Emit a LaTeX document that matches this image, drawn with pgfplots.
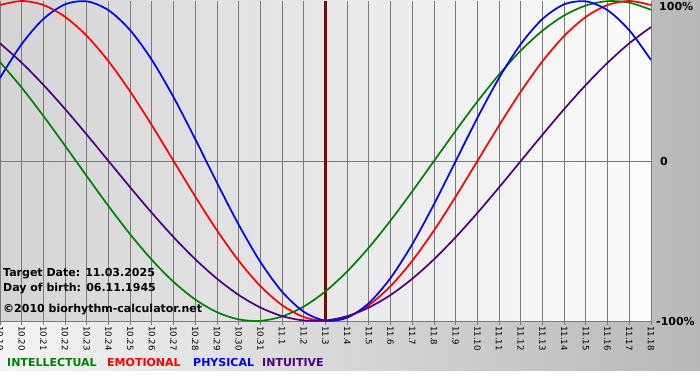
\documentclass[border=0pt]{standalone}
\usepackage{pgfplots}
\usepackage{pgfplotstable}
\pgfplotsset{compat=1.18}
\usepackage{fontspec}
\setmainfont{DejaVu Sans}
\definecolor{cGreen}{HTML}{008000}
\definecolor{cRed}{HTML}{FF0000}
\definecolor{cBlue}{HTML}{0000FF}
\definecolor{cPurple}{HTML}{4B0082}
\definecolor{gridc}{HTML}{7A7A7A}
\definecolor{target}{HTML}{7A0A0A}
\definecolor{bgL}{HTML}{D4D4D4}
\definecolor{bgR}{HTML}{FCFCFC}
\definecolor{outL}{HTML}{F4F4F4}
\definecolor{outR}{HTML}{B8B8B8}

\pgfplotstableread{
d phys emo intel intu
0 0.5196 0.9749 0.6182 0.7357
1 0.7308 1 0.4582 0.6142
2 0.8879 0.9749 0.2817 0.4759
3 0.9791 0.9010 0.0951 0.3247
4 0.9977 0.7818 -0.0951 0.1646
5 0.9423 0.6235 -0.2817 0
6 0.8170 0.4339 -0.4582 -0.1646
7 0.6311 0.2225 -0.6182 -0.3247
8 0.3984 0 -0.7557 -0.4759
9 0.1362 -0.2225 -0.8660 -0.6142
10 -0.1362 -0.4339 -0.9450 -0.7357
11 -0.3984 -0.6235 -0.9898 -0.8372
12 -0.6311 -0.7818 -0.9989 -0.9158
13 -0.8170 -0.9010 -0.9718 -0.9694
14 -0.9423 -0.9749 -0.9096 -0.9966
15 -0.9977 -1 -0.8146 -0.9966
16 -0.9791 -0.9749 -0.6901 -0.9694
17 -0.8879 -0.9010 -0.5406 -0.9158
18 -0.7308 -0.7818 -0.3717 -0.8372
19 -0.5196 -0.6235 -0.1893 -0.7357
20 -0.2698 -0.4339 0 -0.6142
21 0 -0.2225 0.1893 -0.4759
22 0.2698 0 0.3717 -0.3247
23 0.5196 0.2225 0.5406 -0.1646
24 0.7308 0.4339 0.6901 0
25 0.8879 0.6235 0.8146 0.1646
26 0.9791 0.7818 0.9096 0.3247
27 0.9977 0.9010 0.9718 0.4759
28 0.9423 0.9749 0.9989 0.6142
29 0.8170 1 0.9898 0.7357
30 0.6311 0.9749 0.9450 0.8372
}\biodata

\begin{document}
\begin{tikzpicture}[x=1pt,y=1pt]
\useasboundingbox (0,0) rectangle (700,380);
\fill[white] (0,0) rectangle (700,380);
\shade[left color=outL, right color=outR] (0,10) rectangle (700,380);
\begin{axis}[
  at={(0pt,59pt)}, anchor=south west,
  scale only axis, width=651pt, height=320pt,
  xmin=0, xmax=30, ymin=-1, ymax=1,
  axis background/.style={shade, left color=bgL, right color=bgR},
  xtick={0,...,30},
  xticklabels={10.19,10.20,10.21,10.22,10.23,10.24,10.25,10.26,10.27,10.28,10.29,10.30,10.31,11.1,11.2,11.3,11.4,11.5,11.6,11.7,11.8,11.9,11.10,11.11,11.12,11.13,11.14,11.15,11.16,11.17,11.18},
  ytick=\empty,
  xmajorgrids,
  grid style={gridc, line width=0.9pt},
  axis x line*=bottom, axis y line*=left,
  axis line style={gridc, line width=0.9pt},
  tick style={gridc, line width=0.9pt},
  tick align=outside, major tick length=4pt,
  x tick label style={rotate=-90, anchor=west, font=\fontsize{8.6}{9}\selectfont, inner sep=1pt},
]
\addplot[gridc, line width=0.9pt] coordinates {(0,0) (30,0)};
\addplot[target, line width=2.2pt] coordinates {(15,-1) (15,1)};
\addplot[cGreen, line width=1.7pt, smooth] table[x=d, y=intel] {\biodata};
\addplot[cRed, line width=1.7pt, smooth] table[x=d, y=emo] {\biodata};
\addplot[cBlue, line width=1.7pt, smooth] table[x=d, y=phys] {\biodata};
\addplot[cPurple, line width=1.7pt, smooth] table[x=d, y=intu] {\biodata};
\end{axis}
\begin{scope}[every node/.style={inner sep=0pt, font=\bfseries\fontsize{11}{13}\selectfont}]
\node[anchor=base west] at (3,103) {Target Date: 11.03.2025};
\node[anchor=base west] at (3,89) {Day of birth: 06.11.1945};
\node[anchor=base west] at (3,68) {©2010 biorhythm-calculator.net};
\node[anchor=west] at (659,373) {100\%};
\node[anchor=west] at (660,219) {0};
\node[anchor=west] at (656,59) {-100\%};
\node[anchor=base west, text=cGreen] at (7,14) {INTELLECTUAL};
\node[anchor=base west, text=cRed] at (107,14) {EMOTIONAL};
\node[anchor=base west, text=cBlue] at (193,14) {PHYSICAL};
\node[anchor=base west, text=cPurple] at (262,14) {INTUITIVE};
\end{scope}
\end{tikzpicture}
\end{document}
